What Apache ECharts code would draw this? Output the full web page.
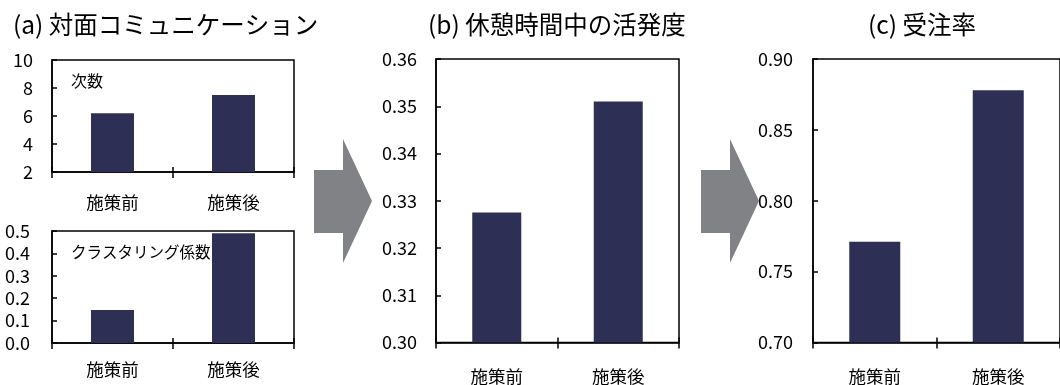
<!DOCTYPE html>
<html>
<head>
<meta charset="utf-8">
<script src="https://cdn.jsdelivr.net/npm/echarts@6/dist/echarts.min.js"></script>
<style>
    html, body { margin: 0; padding: 0; background: #fff; }
    #chart { width: 1060px; height: 385px; }
</style>
</head>
<body>
<div id="chart"></div>
<script>
    // data
    var categories = ['施策前', '施策後'];
    var countValues = [6.2, 7.5];            // (a) 次数
    var clusterValues = [0.147, 0.49];       // (a) クラスタリング係数
    var activityValues = [0.3275, 0.351];    // (b) 休憩時間中の活発度
    var orderRateValues = [0.771, 0.878];    // (c) 受注率

    // y ranges: [min, max, interval, decimals]
    var countRange = [2, 10, 2, 0];
    var clusterRange = [0, 0.5, 0.1, 1];
    var activityRange = [0.30, 0.36, 0.01, 2];
    var orderRateRange = [0.70, 0.90, 0.05, 2];

    var FONT = '"Noto Sans CJK JP", "Noto Sans", sans-serif';
    var BAR = '#2e2f55';
    var ARROW = '#808285';

    var grids = [
        { left: 52, top: 60, width: 242, height: 112 },
        { left: 52, top: 231, width: 242, height: 112 },
        { left: 436, top: 59, width: 243, height: 284 },
        { left: 813, top: 59, width: 250, height: 284 }
    ];
    var labelMargins = [19, 22, 19, 20];
    var catMargins = [22, 18, 25, 25];
    var ranges = [countRange, clusterRange, activityRange, orderRateRange];
    var values = [countValues, clusterValues, activityValues, orderRateValues];
    var barWidths = [43, 43, 49, 51];

    var xAxes = [], yAxes = [], series = [];
    grids.forEach(function (g, i) {
        g.show = true;
        g.borderColor = '#000';
        g.borderWidth = 1.5;
        g.containLabel = false;

        xAxes.push({
            type: 'category', gridIndex: i, data: categories, position: 'bottom',
            axisLine: { lineStyle: { color: '#000', width: 1.5 } },
            axisTick: { show: true, inside: false, length: 6, lineStyle: { color: '#000', width: 1.5 } },
            axisLabel: { color: '#000', fontSize: 17.5, fontFamily: FONT, margin: catMargins[i] },
            splitLine: { show: false }
        });
        // second axis only for the inside half of the crossing ticks
        xAxes.push({
            type: 'category', gridIndex: i, data: categories, position: 'bottom', offset: 0,
            axisLine: { show: false },
            axisTick: { show: true, inside: true, length: 5, lineStyle: { color: '#000', width: 1.5 } },
            axisLabel: { show: false },
            splitLine: { show: false }
        });

        var r = ranges[i];
        yAxes.push({
            type: 'value', gridIndex: i, min: r[0], max: r[1], interval: r[2],
            axisLine: { show: true, lineStyle: { color: '#000', width: 1.5 } },
            axisTick: { show: true, inside: true, length: 5, lineStyle: { color: '#000', width: 1.5 } },
            axisLabel: {
                color: '#000', fontSize: 18, fontFamily: FONT, margin: labelMargins[i],
                formatter: function (v) { return v.toFixed(r[3]); }
            },
            splitLine: { show: false }
        });

        series.push({
            type: 'bar', xAxisIndex: i * 2, yAxisIndex: i,
            data: values[i], barWidth: barWidths[i],
            itemStyle: { color: BAR },
            silent: true
        });
    });

    function arrow(x) {
        return {
            type: 'polygon', z: 0,
            shape: { points: [[x, 170], [x + 29, 170], [x + 29, 139], [x + 58, 201], [x + 29, 263], [x + 29, 233], [x, 233]] },
            style: { fill: ARROW }
        };
    }

    var chart = echarts.init(document.getElementById('chart'));
    chart.setOption({
        animation: false,
        title: [
            { text: '(a) 対面コミュニケーション', left: 8, top: 7, textStyle: { fontSize: 24.5, fontWeight: 'normal', color: '#000', fontFamily: FONT } },
            { text: '(b) 休憩時間中の活発度', left: 423, top: 7, textStyle: { fontSize: 24.5, fontWeight: 'normal', color: '#000', fontFamily: FONT } },
            { text: '(c) 受注率', left: 863, top: 7, textStyle: { fontSize: 24.5, fontWeight: 'normal', color: '#000', fontFamily: FONT } },
            { text: '次数', left: 66, top: 68, textStyle: { fontSize: 16, fontWeight: 'normal', color: '#000', fontFamily: FONT } },
            { text: 'クラスタリング係数', left: 66, top: 239, textStyle: { fontSize: 15.5, fontWeight: 'normal', color: '#000', fontFamily: FONT } }
        ],
        grid: grids,
        xAxis: xAxes,
        yAxis: yAxes,
        series: series,
        graphic: [arrow(314), arrow(701)]
    });
</script>
</body>
</html>
